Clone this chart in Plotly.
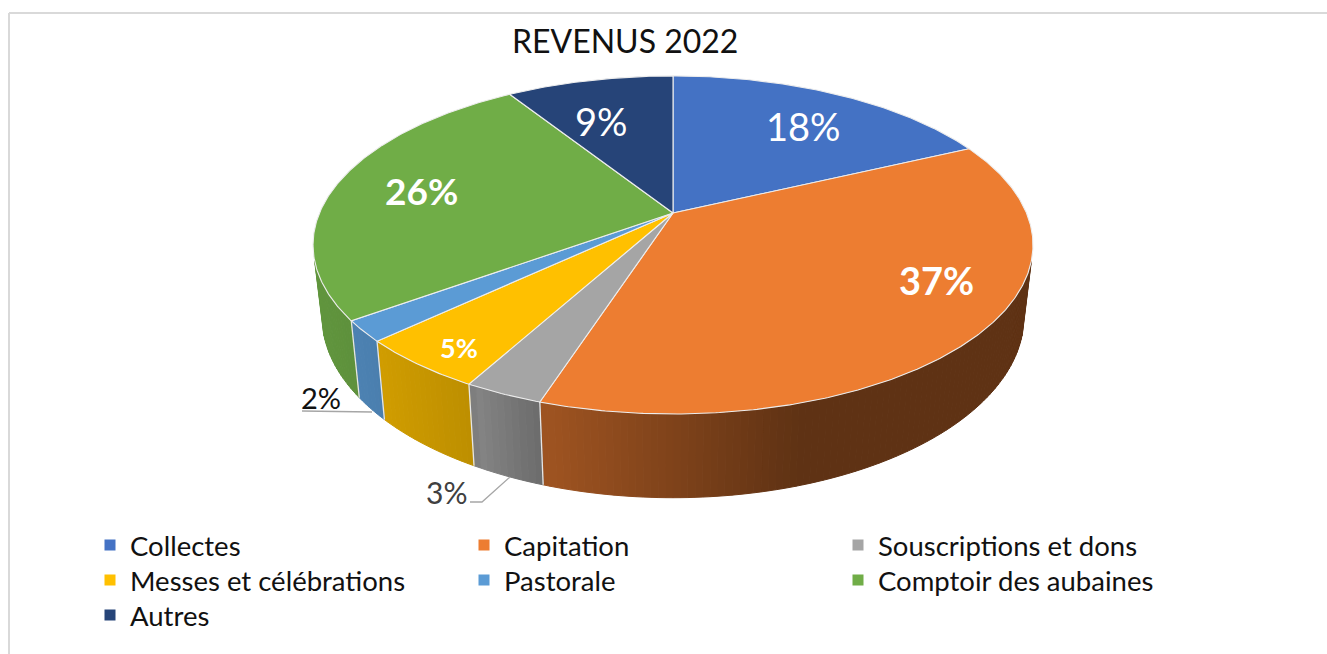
import numpy as np
import plotly.graph_objects as go

# --- data -------------------------------------------------------------
categories = ["Collectes", "Capitation", "Souscriptions et dons",
              "Messes et célébrations", "Pastorale", "Comptoir des aubaines", "Autres"]
shares = [18, 37, 3, 5, 2, 26, 9]
colors = ["#4472C4", "#ED7D31", "#A5A5A5", "#FFC000", "#5B9BD5", "#70AD47", "#264478"]
legend_rows = ["legend", "legend", "legend", "legend2", "legend2", "legend2", "legend3"]
title_text = "REVENUS 2022"

W, H = 1327, 654
FONT = "Lato"

# perspective disc projection (screen pixels via axes 0..W, H..0)
CX, CY, A, B, P = 673.0, 213.0, 353.5, 163.0, -0.189
WALL_FROM, WALL_TO = 106, 254


def top(deg):
    t = np.radians(deg)
    u, v = np.sin(t), -np.cos(t)
    d = 1 + P * v
    return CX + A * u / d, CY + B * v / d


def bottom(deg):
    x, y = top(deg)
    return CX + 0.975 * (x - CX), 1.073 * y + 53.5


# side shading as function of screen x
shade_x = [316, 360, 385, 470, 475, 540, 545, 800, 1033]
shade_f = [.86, .83, .81, .74, .80, .65, .67, .40, .40]


def shaded(hexcol, x):
    f = float(np.interp(x, shade_x, shade_f))
    r, g, b = [int(hexcol[i:i + 2], 16) for i in (1, 3, 5)]
    return f"rgb({r*f:.0f},{g*f:.0f},{b*f:.0f})"


fig = go.Figure()

# legend entries
for name, col, lg in zip(categories, colors, legend_rows):
    fig.add_trace(go.Scatter(x=[None], y=[None], mode="markers", name=name, legend=lg,
                             marker=dict(symbol="square", size=11, color=col)))

edges = np.concatenate([[0], np.cumsum(shares)]) * 3.6

# side wall
for i, col in enumerate(colors):
    a0, a1 = max(edges[i], WALL_FROM), min(edges[i + 1], WALL_TO)
    if a1 <= a0:
        continue
    n = max(int((a1 - a0) / 1.0), 1)
    ang = np.linspace(a0, a1, n + 1)
    for s, e in zip(ang[:-1], ang[1:]):
        tx0, ty0 = top(s)
        tx1, ty1 = top(e)
        bx0, by0 = bottom(s)
        bx1, by1 = bottom(e)
        c = shaded(col, (tx0 + tx1) / 2)
        fig.add_trace(go.Scatter(x=[tx0, tx1, bx1, bx0, tx0], y=[ty0, ty1, by1, by0, ty0],
                                 mode="lines", fill="toself", fillcolor=c,
                                 line=dict(color=c, width=1), hoverinfo="skip", showlegend=False))

# wall seams
for a in edges[1:-1]:
    if WALL_FROM < a < WALL_TO:
        tx, ty = top(a)
        bx, by = bottom(a)
        fig.add_trace(go.Scatter(x=[tx, bx], y=[ty, by], mode="lines",
                                 line=dict(color="#E6E6E6", width=1.3),
                                 hoverinfo="skip", showlegend=False))

# top face
for i, (name, col) in enumerate(zip(categories, colors)):
    ang = np.linspace(edges[i], edges[i + 1], max(int(edges[i + 1] - edges[i]) * 2, 4))
    xs, ys = top(ang)
    fig.add_trace(go.Scatter(x=[CX, *xs, CX], y=[CY, *ys, CY], mode="lines", fill="toself",
                             fillcolor=col, line=dict(color="#EDEDED", width=1.1),
                             name=name, hoverinfo="name", showlegend=False))

# percent labels: (slice index, x, y, size, colour, bold)
label_spec = [
    (0, 803, 126, 38, "white", False),
    (1, 936, 280, 38, "white", True),
    (2, 446.5, 492, 30, "#404040", False),
    (3, 459, 347, 27, "white", True),
    (4, 321, 397, 29, "#111111", False),
    (5, 421, 190, 37, "white", True),
    (6, 601, 121, 38, "white", False),
]
for idx, x, y, size, col, bold in label_spec:
    txt = f"{shares[idx]}%"
    fig.add_annotation(x=x, y=y, text=f"<b>{txt}</b>" if bold else txt, showarrow=False,
                       font=dict(family=FONT, size=size, color=col), xanchor="center", yanchor="middle")

fig.add_annotation(x=625, y=40, text=title_text, showarrow=False,
                   font=dict(family=FONT, size=32, color="#111111"), xanchor="center", yanchor="middle")

shapes = [
    dict(type="line", x0=9, x1=W, y0=13, y1=13, line=dict(color="#D9D9D9", width=2)),
    dict(type="line", x0=9, x1=9, y0=13, y1=H, line=dict(color="#D9D9D9", width=2)),
    dict(type="line", x0=302, x1=372, y0=411, y1=412, line=dict(color="#A6A6A6", width=1.3)),
    dict(type="path", path="M 470 502 L 482 502 L 510 477", line=dict(color="#A6A6A6", width=1.3)),
]


def row_legend(y_px):
    return dict(orientation="h", x=90 / W, y=1 - y_px / H, xanchor="left", yanchor="middle",
                entrywidth=329, entrywidthmode="pixels", traceorder="normal",
                font=dict(family=FONT, size=27.5, color="#111111"), bgcolor="rgba(0,0,0,0)")


fig.update_layout(
    width=W, height=H, margin=dict(l=0, r=0, t=0, b=0),
    paper_bgcolor="white", plot_bgcolor="white", shapes=shapes,
    xaxis=dict(range=[0, W], visible=False, fixedrange=True),
    yaxis=dict(range=[H, 0], visible=False, fixedrange=True),
    legend=row_legend(545), legend2=row_legend(580), legend3=row_legend(615),
    showlegend=True,
)

fig.write_html("out.html", post_script="document.body.style.margin='0';",
               config={"displayModeBar": False})
